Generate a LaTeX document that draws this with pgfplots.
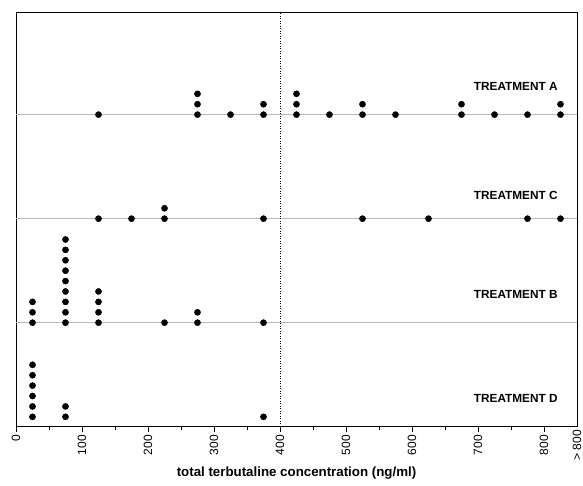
\documentclass[border=0pt]{standalone}
\usepackage{pgfplots}
\pgfplotsset{compat=1.18}
\usepackage{fontspec}
\setmainfont{Liberation Sans}
\begin{document}
\begin{tikzpicture}
\useasboundingbox (0,0) rectangle (583pt,485pt);
\begin{axis}[
  at={(16pt,58.3pt)}, anchor=south west,
  scale only axis, width=561pt, height=414pt,
  xmin=0, xmax=850, ymin=0, ymax=39.8,
  axis line style={black, line width=0.8pt},
  xtick={0,100,...,800},
  minor xtick={50,150,...,750},
  extra x ticks={850},
  extra x tick labels={> 800},
  extra x tick style={major tick length=0pt},
  ytick=\empty,
  tick align=outside,
  major tick length=5pt, minor tick length=3pt,
  every tick/.style={black, line width=0.6pt},
  xtick pos=bottom,
  /pgf/number format/assume math mode=true,
  xticklabel style={rotate=90, anchor=east, font=\fontsize{12}{12}\selectfont},
  xlabel={\textbf{total terbutaline concentration (ng/ml)}},
  xlabel style={font=\fontsize{13.3}{14}\selectfont, yshift=6pt},
  clip=false,
]
\addplot[gray!55, line width=0.6pt] coordinates {(0,30) (850,30)};
\addplot[gray!55, line width=0.6pt] coordinates {(0,20) (850,20)};
\addplot[gray!55, line width=0.6pt] coordinates {(0,10) (850,10)};
\addplot[black, line width=0.5pt, dash pattern=on 1pt off 1.5pt] coordinates {(400,0) (400,39.8)};
% Treatment A
\addplot[only marks, mark=*, mark size=3.1pt, black] coordinates {
(125,30)
(275,30) (275,31) (275,32)
(325,30)
(375,30) (375,31)
(425,30) (425,31) (425,32)
(475,30)
(525,30) (525,31)
(575,30)
(675,30) (675,31)
(725,30)
(775,30)
(825,30) (825,31)
};
% Treatment C
\addplot[only marks, mark=*, mark size=3.1pt, black] coordinates {
(125,20) (175,20) (225,20) (225,21) (375,20) (525,20) (625,20) (775,20) (825,20)
};
% Treatment B
\addplot[only marks, mark=*, mark size=3.1pt, black] coordinates {
(25,10) (25,11) (25,12)
(75,10) (75,11) (75,12) (75,13) (75,14) (75,15) (75,16) (75,17) (75,18)
(125,10) (125,11) (125,12) (125,13)
(225,10)
(275,10) (275,11)
(375,10)
};
% Treatment D
\addplot[only marks, mark=*, mark size=3.1pt, black] coordinates {
(25,0.95) (25,1.95) (25,2.95) (25,3.95) (25,4.95) (25,5.95)
(75,0.95) (75,1.95)
(375,0.95)
};
\node[anchor=east, font=\fontsize{11.8}{12}\selectfont\bfseries] at (axis cs:826,32.7) {TREATMENT A};
\node[anchor=east, font=\fontsize{11.8}{12}\selectfont\bfseries] at (axis cs:826,22.2) {TREATMENT C};
\node[anchor=east, font=\fontsize{11.8}{12}\selectfont\bfseries] at (axis cs:826,12.7) {TREATMENT B};
\node[anchor=east, font=\fontsize{11.8}{12}\selectfont\bfseries] at (axis cs:826,2.75) {TREATMENT D};
\end{axis}
\end{tikzpicture}
\end{document}
